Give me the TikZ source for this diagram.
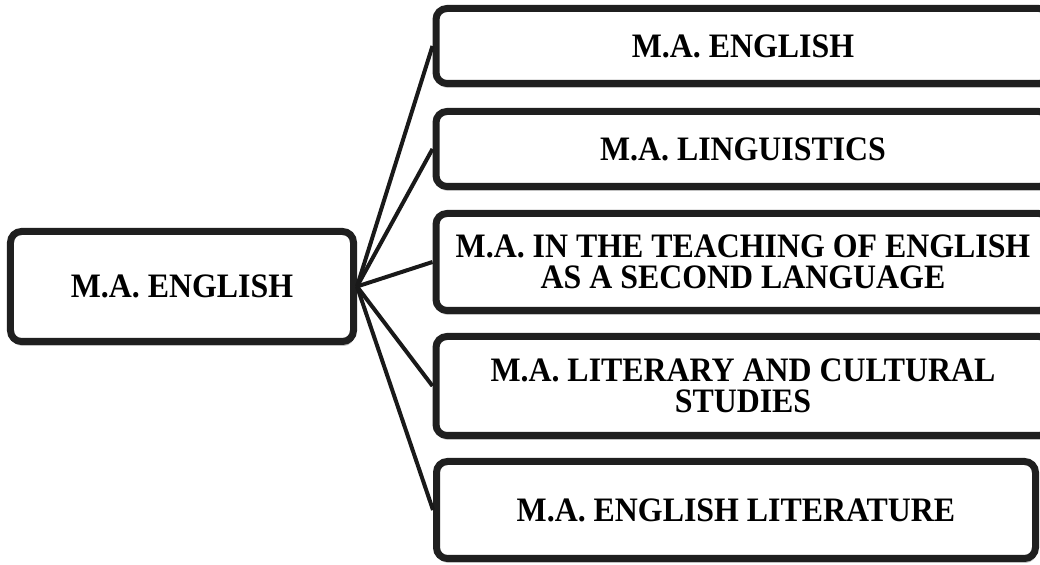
\documentclass[tikz,border=0pt]{standalone}
\usepackage{fontspec}
\setmainfont{Liberation Serif}[FakeStretch=0.93]
\usepackage{tikz}
\usetikzlibrary{shadows}

\begin{document}
\begin{tikzpicture}
        \useasboundingbox (0,0) rectangle (20.8,-11.3);
        \tikzstyle{every node}=[draw=black!88, line width=0.14cm, rounded corners=0.22cm, fill=white,
            align=center, inner sep=0pt, font=\fontsize{19.5}{17.8}\selectfont\bfseries,
            drop shadow={shadow xshift=0.02cm, shadow yshift=-0.09cm, fill=black!35, opacity=0.7}]
        \node[minimum width=6.86cm, minimum height=2.2cm] (degree) at (3.64, -5.73) {M.A. ENGLISH};
        \node[minimum width=12.28cm, minimum height=1.5cm] (eng)  at (14.86, -0.92) {M.A. ENGLISH};
        \node[minimum width=12.28cm, minimum height=1.5cm] (ling) at (14.86, -2.98) {M.A. LINGUISTICS};
        \node[minimum width=12.28cm, minimum height=1.94cm] (tesl) at (14.86, -5.24) {M.A. IN THE TEACHING OF ENGLISH\\AS A SECOND LANGUAGE};
        \node[minimum width=12.28cm, minimum height=1.98cm] (lcs)  at (14.86, -7.72) {M.A. LITERARY AND CULTURAL\\STUDIES};
        \node[minimum width=11.98cm, minimum height=1.94cm] (lit)  at (14.72, -10.2) {M.A. ENGLISH LITERATURE};
        \tikzstyle{every path}=[line width=0.08cm, draw=black!90]
        \foreach \b in {eng, ling, tesl, lcs, lit}
            \draw (degree.east) -- (\b.west);
    \end{tikzpicture}
\end{document}
